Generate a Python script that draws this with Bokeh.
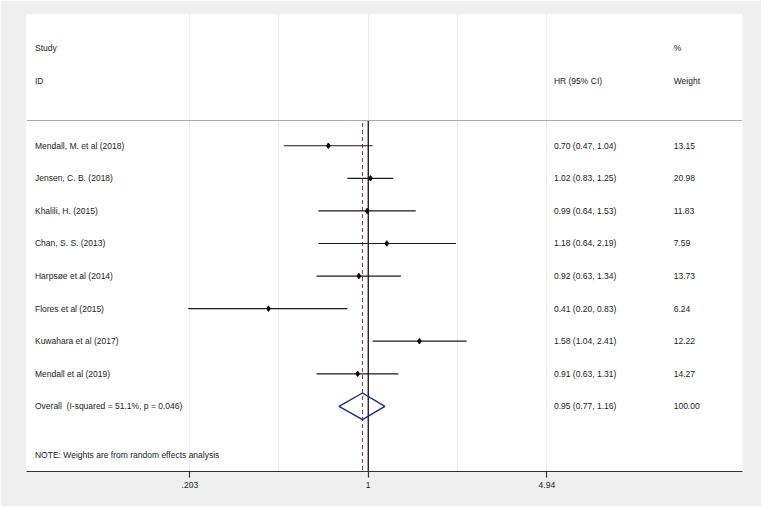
import numpy as np
from bokeh.plotting import figure
from bokeh.models import ColumnDataSource, Range1d, FixedTicker, CustomJSTickFormatter, Span
from bokeh.core.properties import value
from bokeh.embed import file_html
from bokeh.resources import INLINE

# ---- data ----
studies = ["Mendall, M. et al (2018)", "Jensen, C. B. (2018)", "Khalili, H. (2015)",
           "Chan, S. S. (2013)", "Harpsøe et al (2014)", "Flores et al (2015)",
           "Kuwahara et al (2017)", "Mendall et al (2019)"]
hr = [0.70, 1.02, 0.99, 1.18, 0.92, 0.41, 1.58, 0.91]
lo = [0.47, 0.83, 0.64, 0.64, 0.63, 0.20, 1.04, 0.63]
hi = [1.04, 1.25, 1.53, 2.19, 1.34, 0.83, 2.41, 1.31]
weight = [13.15, 20.98, 11.83, 7.59, 13.73, 6.24, 12.22, 14.27]

overall_label = "Overall \u00a0(I-squared = 51.1%, p = 0.046)"
overall_hr, overall_lo, overall_hi, overall_w = 0.95, 0.77, 1.16, 100.00
note = "NOTE: Weights are from random effects analysis"

tick_vals = [0.203, 1, 4.94]
tick_labels = [".203", "1", "4.94"]
grid_vals = [0.203, 0.450, 1, 2.22, 4.94]

# ---- layout constants ----
FONT = "Liberation Sans"
FS = "8.5px"
TXT = "#222222"
X_NAME, X_HR, X_W = 0.0508, 5.26, 15.35
rows = list(range(1, len(studies) + 1))
Y_OVERALL = len(studies) + 1
Y_HDR1, Y_HDR2 = -2, -1
Y_NOTE = Y_OVERALL + 1.5
Y_SEP = 0.224

p = figure(width=761, height=506, x_axis_type="log",
           x_range=Range1d(0.0471, 28.4), y_range=Range1d(11.0, -3.03),
           output_backend="svg", toolbar_location=None, y_axis_location=None,
           min_border_left=26, min_border_right=19, min_border_top=14, min_border_bottom=35)
p.border_fill_color = "#EFEFEF"
p.background_fill_color = "white"
p.outline_line_color = None
p.ygrid.visible = False
p.xgrid.ticker = FixedTicker(ticks=grid_vals)
p.xgrid.grid_line_color = "#E3EEF1"
p.xgrid.grid_line_width = 1

ax = p.xaxis[0]
ax.ticker = FixedTicker(ticks=tick_vals)
ax.formatter = CustomJSTickFormatter(args=dict(tvals=tick_vals, tlabels=tick_labels), code="""
let best = 0;
for (let i = 0; i < tvals.length; i++) {
  if (Math.abs(Math.log(tvals[i] / tick)) < Math.abs(Math.log(tvals[best] / tick))) best = i;
}
return tlabels[best];
""")
ax.axis_line_color = "#333333"
ax.axis_line_width = 1.2
ax.major_tick_line_color = "#333333"
ax.major_tick_line_width = 1.2
ax.major_tick_out = 6
ax.major_tick_in = 0
ax.minor_tick_line_color = None
ax.major_label_text_font = FONT
ax.major_label_text_font_size = FS
ax.major_label_text_color = TXT
ax.major_label_standoff = 4

# separator line
p.add_layout(Span(location=Y_SEP, dimension="width", line_color="#AAAAAA", line_width=1.2))

# null line and overall dashed line
p.segment(x0=[1], x1=[1], y0=[Y_SEP], y1=[11.0], line_color="black", line_width=1.2)
p.segment(x0=[overall_hr], x1=[overall_hr], y0=[Y_SEP + 0.08], y1=[11.0],
          line_color="#A33A3A", line_width=1.1, line_dash="4 3")

src = ColumnDataSource(dict(
    y=rows, hr=hr, lo=lo, hi=hi, name=studies,
    ci=[f"{h:.2f} ({l:.2f}, {u:.2f})" for h, l, u in zip(hr, lo, hi)],
    w=[f"{x:.2f}" for x in weight],
))

p.segment(x0="lo", x1="hi", y0="y", y1="y", source=src, line_color="#1a1a1a", line_width=1.2)
p.scatter(x="hr", y="y", source=src, marker="diamond", size=5.5, color="black")

# overall diamond
dh = 0.41
p.patch(x=[overall_lo, overall_hr, overall_hi, overall_hr],
        y=[Y_OVERALL, Y_OVERALL - dh, Y_OVERALL, Y_OVERALL + dh],
        fill_color=None, line_color="#1E2A85", line_width=1.4)

def txt(x, y, t):
    p.text(x=[x], y=[y], text=[t], text_font=value(FONT), text_font_size=FS, text_color=TXT,
           text_align="left", text_baseline="middle")

for col, xpos in (("name", X_NAME), ("ci", X_HR), ("w", X_W)):
    p.text(x=xpos, y="y", text=col, source=src, text_font=value(FONT), text_font_size=FS,
           text_color=TXT, text_align="left", text_baseline="middle")

txt(X_NAME, Y_HDR1, "Study")
txt(X_NAME, Y_HDR2, "ID")
txt(X_HR, Y_HDR2, "HR (95% CI)")
txt(X_W, Y_HDR1, "%")
txt(X_W, Y_HDR2, "Weight")
txt(X_NAME, Y_OVERALL, overall_label)
txt(X_HR, Y_OVERALL, f"{overall_hr:.2f} ({overall_lo:.2f}, {overall_hi:.2f})")
txt(X_W, Y_OVERALL, f"{overall_w:.2f}")
txt(X_NAME, Y_NOTE, note)

open("out.html", "w").write(file_html(p, INLINE))
